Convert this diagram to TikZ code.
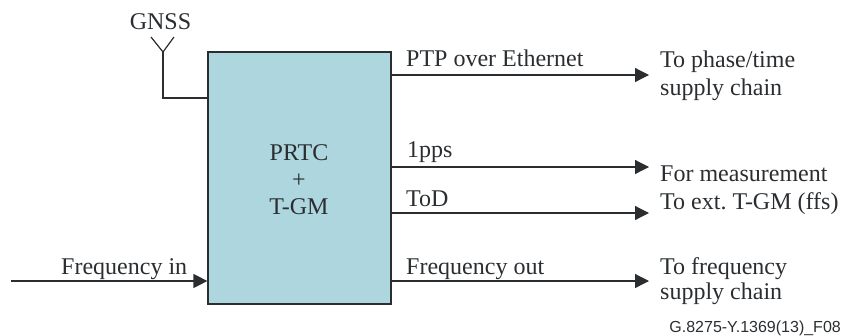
\documentclass[tikz,border=0pt]{standalone}
\usepackage{fontspec}
\setmainfont{Liberation Serif}
\newfontfamily\labelsans{Liberation Sans}
\usetikzlibrary{arrows.meta}
\definecolor{inkdark}{HTML}{2B2E31}
\definecolor{boxfill}{HTML}{ADD6DE}
\tikzset{
  x=1pt,y=-1pt,
  wire/.style={draw=inkdark,line width=1.2pt},
  flow/.style={wire,-{Triangle[length=14pt,width=14pt]}},
  lbl/.style={font=\frenchspacing\fontsize{24}{27}\selectfont,text=inkdark,inner sep=0pt,anchor=base west,align=left},
  mainbox/.style={draw=inkdark,line width=1.2pt,fill=boxfill,inner sep=0pt,minimum width=183pt,minimum height=252pt},
}
\begin{document}
\begin{tikzpicture}
\useasboundingbox (0,0) rectangle (842,335);
\node[mainbox] (box) at (299.5,178) {};
\node[lbl,anchor=base,align=center] (core) at (299,214) {PRTC\\+\\T-GM};
\node[lbl,anchor=base] (gnss) at (160.5,29) {GNSS};
\coordinate (ant) at (163,52);
\coordinate (antl) at (151,37);
\coordinate (antr) at (174,37);
\coordinate (antb) at (163,98);
\draw[wire] (antl) -- (ant) -- (antr);
\draw[wire] (ant) -- (antb) -- (box.west |- antb);
\coordinate (fin) at (11,281);
\draw[flow] (fin) -- (box.west |- fin);
\node[lbl] (lin) at (61,274) {Frequency in};
\coordinate (e1) at (649,75);
\coordinate (e2) at (649,167);
\coordinate (e3) at (649,213);
\coordinate (e4) at (649,281);
\draw[flow] (box.east |- e1) -- (e1);
\draw[flow] (box.east |- e2) -- (e2);
\draw[flow] (box.east |- e3) -- (e3);
\draw[flow] (box.east |- e4) -- (e4);
\node[lbl] (l1) at (406,66) {PTP over Ethernet};
\node[lbl] (l2) at (407,157) {1pps};
\node[lbl] (l3) at (406,206) {ToD};
\node[lbl] (l4) at (406,274) {Frequency out};
\node[lbl] (d1a) at (660,67) {To phase/time};
\node[lbl] (d1b) at (660,95) {supply chain};
\node[lbl] (d2a) at (660,181) {For measurement};
\node[lbl] (d2b) at (660,209) {To ext. T-GM (ffs)};
\node[lbl] (d3a) at (660,274) {To frequency};
\node[lbl] (d3b) at (660,299) {supply chain};
\node[inner sep=0pt,anchor=base east,text=inkdark,font=\labelsans\fontsize{16}{18}\selectfont] (ref) at (841,332) {G.8275-Y.1369(13)\_F08};
\end{tikzpicture}
\end{document}
